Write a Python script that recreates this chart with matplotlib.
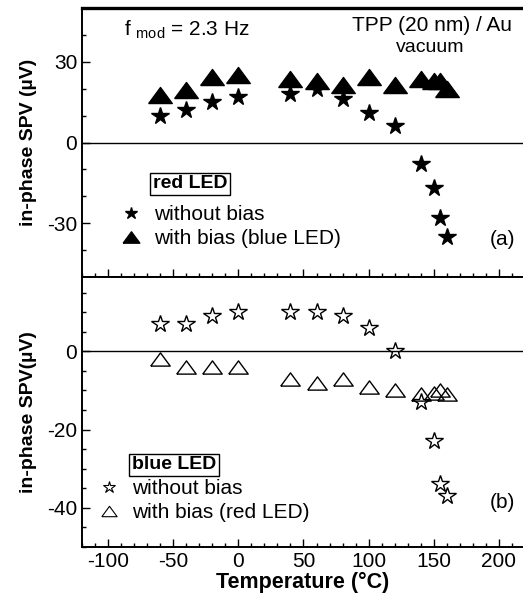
import matplotlib
matplotlib.use('Agg')
import matplotlib.pyplot as plt
from matplotlib.ticker import MultipleLocator
from matplotlib.lines import Line2D

plt.rcParams['font.family'] = ['Liberation Sans', 'DejaVu Sans']
plt.rcParams['mathtext.default'] = 'regular'
plt.rcParams['axes.unicode_minus'] = False

# temperatures (deg C)
temp = [-60, -40, -20, 0, 40, 60, 80, 100, 120, 140, 150, 155, 160]

# (a) red LED
red_nobias = [10, 12, 15, 17, 18, 20, 16, 11, 6, -8, -17, -28, -35]
red_bias = [17.5, 19.5, 24.5, 25.2, 23.7, 22.7, 21.5, 24.5, 21.5, 23.7, 22.7, 22.7, 20]

# (b) blue LED
blue_nobias = [7, 7, 9, 10, 10, 10, 9, 6, 0, -13, -23, -34, -37]
blue_bias = [-2, -4, -4, -4, -7, -8, -7, -9, -10, -11, -10.7, -10, -11]

# wide triangle, the figure is a bit stretched sideways
tri = [(-1, -0.68), (1, -0.68), (0, 0.68), (-1, -0.68)]

fig = plt.figure(figsize=(5.23, 6.03), dpi=100)
ax1 = fig.add_axes([82/523, 1-277/603, 441/523, 269/603])
ax2 = fig.add_axes([82/523, 1-547/603, 441/523, 270/603])

for ax in (ax1, ax2):
    ax.set_xlim(-120, 218.5)
    ax.xaxis.set_major_locator(MultipleLocator(50))
    ax.xaxis.set_minor_locator(MultipleLocator(10))
    ax.tick_params(which='both', direction='in', top=False, right=False, labelsize=15, width=1)
    ax.tick_params(which='major', length=6)
    ax.tick_params(which='minor', length=3)
    ax.spines['right'].set_visible(False)
    for s in ('left', 'top', 'bottom'):
        ax.spines[s].set_linewidth(1.4)
    ax.axhline(0, color='black', lw=1)
ax1.spines['top'].set_linewidth(2.4)

ax1.set_ylim(-50, 50)
ax1.yaxis.set_major_locator(MultipleLocator(30))
ax1.yaxis.set_minor_locator(MultipleLocator(10))
ax1.tick_params(labelbottom=False)
ax1.plot(temp, red_bias, marker=tri, color='black', ms=17, ls='none')
ax1.plot(temp, red_nobias, '*', color='black', ms=13, ls='none')
ax1.set_ylabel('in-phase SPV (\u00b5V)', fontsize=14, fontweight='bold', labelpad=7)

ax1.text(0.095, 0.918, 'f $_{mod}$ = 2.3 Hz', transform=ax1.transAxes, fontsize=15, va='center')
ax1.text(0.975, 0.935, 'TPP (20 nm) / Au', transform=ax1.transAxes, fontsize=15, ha='right', va='center')
ax1.text(0.789, 0.853, 'vacuum', transform=ax1.transAxes, fontsize=14, ha='center', va='center')
ax1.text(0.16, 0.346, 'red LED', transform=ax1.transAxes, fontsize=14, fontweight='bold', va='center',
         bbox=dict(boxstyle='square,pad=0.15', fc='white', ec='black', lw=1))
ax1.text(0.982, 0.138, '(a)', transform=ax1.transAxes, fontsize=15, ha='right', va='center')
h1 = [Line2D([], [], marker='*', color='black', ls='none', ms=9),
      Line2D([], [], marker=tri, color='black', ls='none', ms=12)]
ax1.legend(h1, ['without bias', 'with bias (blue LED)'], loc='center left',
           bbox_to_anchor=(0.06, 0.188), frameon=False, fontsize=15,
           handletextpad=0.5, labelspacing=0.25, borderpad=0, handlelength=1.2)

ax2.set_ylim(-50, 19)
ax2.yaxis.set_major_locator(MultipleLocator(20))
ax2.yaxis.set_minor_locator(MultipleLocator(5))
ax2.plot(temp, blue_bias, marker=tri, mfc='none', mec='black', mew=1, ms=14, ls='none')
ax2.plot(temp, blue_nobias, '*', mfc='none', mec='black', mew=1, ms=13, ls='none')
ax2.set_ylabel('in-phase SPV(\u00b5V)', fontsize=14, fontweight='bold', labelpad=7)
ax2.set_xlabel('Temperature (\u00b0C)', fontsize=15.5, fontweight='bold', labelpad=1)

ax2.text(0.113, 0.304, 'blue LED', transform=ax2.transAxes, fontsize=14, fontweight='bold', va='center',
         bbox=dict(boxstyle='square,pad=0.15', fc='white', ec='black', lw=1))
ax2.text(0.982, 0.163, '(b)', transform=ax2.transAxes, fontsize=15, ha='right', va='center')
h2 = [Line2D([], [], marker='*', mfc='none', mec='black', mew=0.8, ls='none', ms=9),
      Line2D([], [], marker=tri, mfc='none', mec='black', mew=0.8, ls='none', ms=11)]
ax2.legend(h2, ['without bias', 'with bias (red LED)'], loc='center left',
           bbox_to_anchor=(0.01, 0.172), frameon=False, fontsize=15,
           handletextpad=0.5, labelspacing=0.25, borderpad=0, handlelength=1.2)

fig.savefig('out.png', dpi=100)
